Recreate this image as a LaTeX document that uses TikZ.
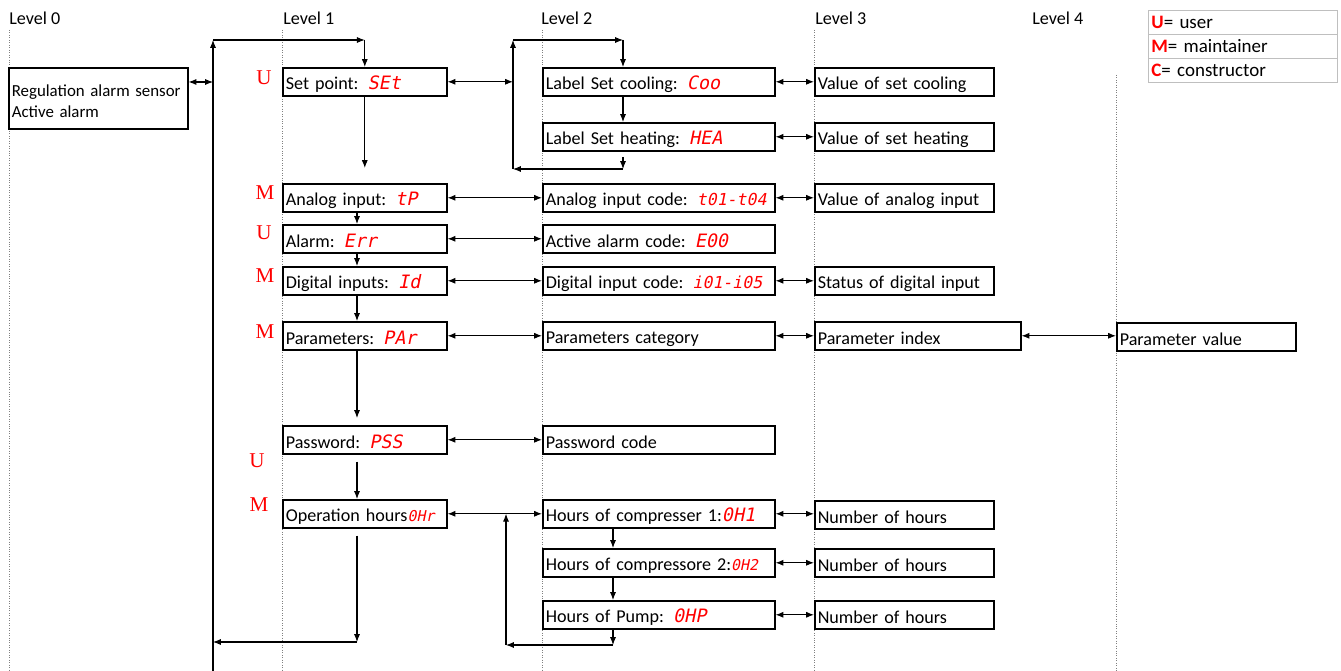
\documentclass[tikz,border=0pt]{standalone}
\usepackage{fontspec}
\setmainfont{Carlito}
\newfontfamily\segfont{DejaVu Sans Mono}[FakeSlant=0.2]
\newfontfamily\rolefont{Liberation Serif}
\usetikzlibrary{arrows.meta,calc,positioning}

\newcommand{\seg}[1]{\mbox{\segfont\fontsize{10.5}{12}\selectfont\color{red}#1}}
\newcommand{\segmid}[1]{\mbox{\segfont\fontsize{9.4}{12}\selectfont\color{red}#1}}
\newcommand{\segsmall}[1]{\mbox{\segfont\fontsize{8.5}{10}\selectfont\color{red}#1}}

\begin{document}
\begin{tikzpicture}[x=0.02cm, y=-0.02cm, font=\fontsize{10.3}{12}\selectfont,
    box/.style={draw, line width=0.9pt, fill=white, anchor=north west, minimum height=0.56cm, inner xsep=0.06cm, inner ysep=0pt, align=left, execute at begin node={\rule{0pt}{10pt}}},
    lone/.style={box, text width=3.16cm},
    ltwo/.style={box, text width=4.52cm},
    lthree/.style={box, text width=3.46cm},
    legend/.style={draw=gray!50, anchor=north west, minimum height=0.48cm, text width=3.66cm, inner xsep=0.06cm, inner ysep=0pt, align=left, font=\fontsize{10.8}{12}\selectfont},
    arrow/.style={-{Latex[length=4.5pt,width=3.5pt]}, line width=0.6pt},
    biarrow/.style={{Latex[length=4.5pt,width=3.5pt]}-{Latex[length=4.5pt,width=3.5pt]}, line width=0.6pt},
    guide/.style={densely dotted, gray, line width=0.4pt},
    level/.style={anchor=west, inner sep=0pt},
    role/.style={text=red, font=\rolefont\fontsize{12}{12}\selectfont}
]
\useasboundingbox (0,0) rectangle (1341,671);

% Level guides
\node[level] (lv0) at (9,18) {Level 0};
\node[level] (lv1) at (283,18) {Level 1};
\node[level] (lv2) at (541,18) {Level 2};
\node[level] (lv3) at (815,18) {Level 3};
\node[level] (lv4) at (1032,18) {Level 4};
\draw[guide] (9,30) -- (9,671);
\draw[guide] (282,30) -- (282,671);
\draw[guide] (542,30) -- (542,671);
\draw[guide] (814,30) -- (814,671);
\draw[guide] (1116,75) -- (1116,671);

% Legend
\node[legend] (lgu) at (1148,10) {\textbf{\color{red}U}= user};
\node[legend] (lgm) at (1148,34) {\textbf{\color{red}M}= maintainer};
\node[legend] (lgc) at (1148,58) {\textbf{\color{red}C}= constructor};

% Level 0
\node[box, text width=3.46cm, minimum height=1.22cm, font=\fontsize{9.6}{12}\selectfont] (lzero) at (8,67) {Regulation alarm sensor\\Active alarm};

% Level 1
\node[lone] (setpoint) at (282,67) {Set point: \seg{SEt}};
\node[lone] (analog) at (282,183) {Analog input: \seg{tP}};
\node[lone] (alarm) at (282,224) {Alarm: \seg{Err}};
\node[lone] (digital) at (282,266) {Digital inputs: \seg{Id}};
\node[lone] (params) at (282,321) {Parameters: \seg{PAr}};
\node[lone] (password) at (282,425) {Password: \seg{PSS}};
\node[lone] (ophours) at (282,499) {Operation hours\segsmall{0Hr}};

% Level 2
\node[ltwo] (setcool) at (542,67) {Label Set cooling: \seg{Coo}};
\node[ltwo] (setheat) at (542,122) {Label Set heating: \seg{HEA}};
\node[ltwo] (acode) at (542,183) {Analog input code: \segmid{t01-t04}};
\node[ltwo] (alcode) at (542,224) {Active alarm code: \seg{E00}};
\node[ltwo] (dcode) at (542,266) {Digital input code: \segmid{i01-i05}};
\node[ltwo] (pcat) at (542,321) {Parameters category};
\node[ltwo] (pwcode) at (542,425) {Password code};
\node[ltwo] (comp1) at (542,499) {Hours of compresser 1:\seg{0H1}};
\node[ltwo] (comp2) at (542,548) {Hours of compressore 2:\segsmall{0H2}};
\node[ltwo] (pump) at (542,600) {Hours of Pump: \seg{0HP}};

% Level 3
\node[lthree] (vcool) at (814,67) {Value of set cooling};
\node[lthree] (vheat) at (814,122) {Value of set heating};
\node[lthree] (vanalog) at (814,183) {Value of analog input};
\node[lthree] (sdigital) at (814,266) {Status of digital input};
\node[box, text width=4.0cm] (pindex) at (814,321) {Parameter index};
\node[lthree] (nhcomp1) at (814,500) {Number of hours};
\node[lthree] (nhcomp2) at (814,548) {Number of hours};
\node[lthree] (nhpump) at (814,600) {Number of hours};

% Level 4
\node[lthree] (pvalue) at (1116,322) {Parameter value};

% Roles
\node[role] (rsp) at (264,78) {U};
\node[role] (ran) at (265,193) {M};
\node[role] (ral) at (264,233) {U};
\node[role] (rdi) at (265,276) {M};
\node[role] (rpa) at (265,332) {M};
\node[role] (rpw) at (257,461) {U};
\node[role] (roh) at (259,505) {M};

% Main loop
\coordinate (ltop) at (213,40);
\coordinate (lbot) at (213,671);
\coordinate (ljoin) at (213,82);
\coordinate (acol) at (357,0);
\coordinate (spend) at (364,168);
\coordinate (pwstop) at (357,418);
\coordinate (obot) at (357,642);
\draw[arrow] (lbot) -- (ltop);
\draw[arrow] (ltop) -- (ltop -| setpoint.north);
\draw[arrow] (ltop -| setpoint.north) -- (setpoint.north);
\draw[biarrow] (lzero.east |- ljoin) -- (ljoin);
\draw[arrow] (setpoint.south) -- (setpoint.south |- spend);
\draw[arrow] (analog.south -| acol) -- (alarm.north -| acol);
\draw[arrow] (alarm.south -| acol) -- (digital.north -| acol);
\draw[arrow] (digital.south -| acol) -- (params.north -| acol);
\draw[arrow] (params.south -| acol) -- (pwstop);
\draw[arrow, shorten <=4pt] (password.south -| acol) -- (ophours.north -| acol);
\draw[arrow, shorten <=4pt] (ophours.south -| acol) -- (obot);
\draw[arrow] (obot) -- (obot -| lbot);

% Set point loop
\coordinate (mtop) at (513,40);
\coordinate (mbot) at (513,169);
\coordinate (ccol) at (623,0);
\coordinate (hcorner) at (623,169);
\draw[biarrow] (setpoint.east) -- (setpoint.east -| mtop);
\draw[arrow] (mbot) -- (mtop);
\draw[arrow] (mtop) -- (mtop -| ccol);
\draw[arrow] (mtop -| ccol) -- (setcool.north -| ccol);
\draw[arrow] (setcool.south -| ccol) -- (setheat.north -| ccol);
\draw[arrow, shorten <=3pt] (setheat.south -| ccol) -- (hcorner);
\draw[arrow] (hcorner) -- (mbot);
\draw[biarrow] (setcool.east) -- (vcool.west);
\draw[biarrow] (setheat.east) -- (vheat.west);

% Inputs and parameters
\draw[biarrow] (analog.east) -- (acode.west);
\draw[biarrow] (acode.east) -- (vanalog.west);
\draw[biarrow] (alarm.east) -- (alcode.west);
\draw[biarrow] (digital.east) -- (dcode.west);
\draw[biarrow] (dcode.east) -- (sdigital.west);
\draw[biarrow] (params.east) -- (pcat.west);
\draw[biarrow] (pcat.east) -- (pindex.west);
\draw[biarrow] (pindex.east) -- (pindex.east -| pvalue.west);
\draw[biarrow] (password.east) -- (pwcode.west);

% Hours loop
\coordinate (hcol) at (613,0);
\coordinate (hleft) at (506,645);
\draw[biarrow] (ophours.east) -- (comp1.west);
\draw[arrow] (comp1.south -| hcol) -- (comp2.north -| hcol);
\draw[arrow] (comp2.south -| hcol) -- (pump.north -| hcol);
\draw[arrow] (pump.south -| hcol) -- (hcol |- hleft);
\draw[arrow] (hcol |- hleft) -- (hleft);
\draw[arrow] (hleft) -- (hleft |- ophours.east);
\draw[biarrow] (comp1.east) -- (comp1.east -| nhcomp1.west);
\draw[biarrow] (comp2.east) -- (nhcomp2.west);
\draw[biarrow] (pump.east) -- (nhpump.west);

\end{tikzpicture}
\end{document}
